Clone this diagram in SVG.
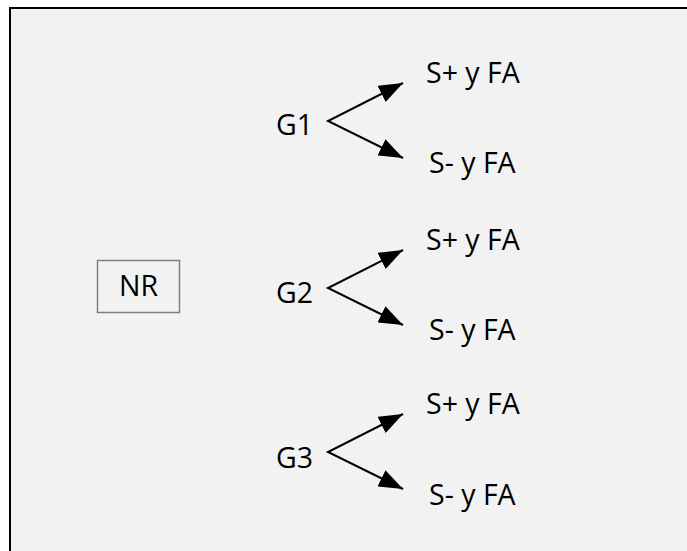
<svg xmlns="http://www.w3.org/2000/svg" width="687" height="551" viewBox="0 0 687 551">
  <defs>
    <style>
      .lbl { font-family: "Open Sans", "Liberation Sans", sans-serif; font-size: 28.5px; fill: #000; }
      .fork { fill: none; stroke: #000; stroke-width: 2; stroke-linejoin: miter;
              marker-start: url(#head); marker-end: url(#head); }
    </style>
    <marker id="head" viewBox="0 0 24 18" refX="24" refY="9" markerWidth="24" markerHeight="18"
            markerUnits="userSpaceOnUse" orient="auto-start-reverse">
      <path d="M0,0 L24,9 L0,18 z" fill="#000"/>
    </marker>
  </defs>

  <!-- page background -->
  <rect x="0" y="0" width="687" height="551" fill="#ffffff"/>
  <!-- framed panel (right and bottom edges run past the canvas) -->
  <rect x="10" y="8" width="700" height="570" fill="#f2f2f2" stroke="#000" stroke-width="2"/>

  <g id="nr">
    <rect x="97.5" y="260.5" width="82" height="52" fill="#f2f2f2" stroke="#808080" stroke-width="1.5"/>
    <text class="lbl" x="138.5" y="296" text-anchor="middle">NR</text>
  </g>

  <g id="g1">
    <text class="lbl" x="276" y="135">G1</text>
  </g>
  <g id="g1-pos"><text class="lbl" x="426" y="83">S+ y FA</text></g>
  <g id="g1-neg"><text class="lbl" x="429" y="173">S- y FA</text></g>

  <g id="g2">
    <text class="lbl" x="276" y="303">G2</text>
  </g>
  <g id="g2-pos"><text class="lbl" x="426" y="250">S+ y FA</text></g>
  <g id="g2-neg"><text class="lbl" x="429" y="340">S- y FA</text></g>

  <g id="g3">
    <text class="lbl" x="276" y="468">G3</text>
  </g>
  <g id="g3-pos"><text class="lbl" x="426" y="414">S+ y FA</text></g>
  <g id="g3-neg"><text class="lbl" x="429" y="505">S- y FA</text></g>

  <g id="connectors">
    <path class="fork" d="M403,83 L328,121 L403,158"/>
    <path class="fork" d="M403,250 L328,288 L403,325"/>
    <path class="fork" d="M403,414 L328,452 L403,489"/>
  </g>
</svg>
